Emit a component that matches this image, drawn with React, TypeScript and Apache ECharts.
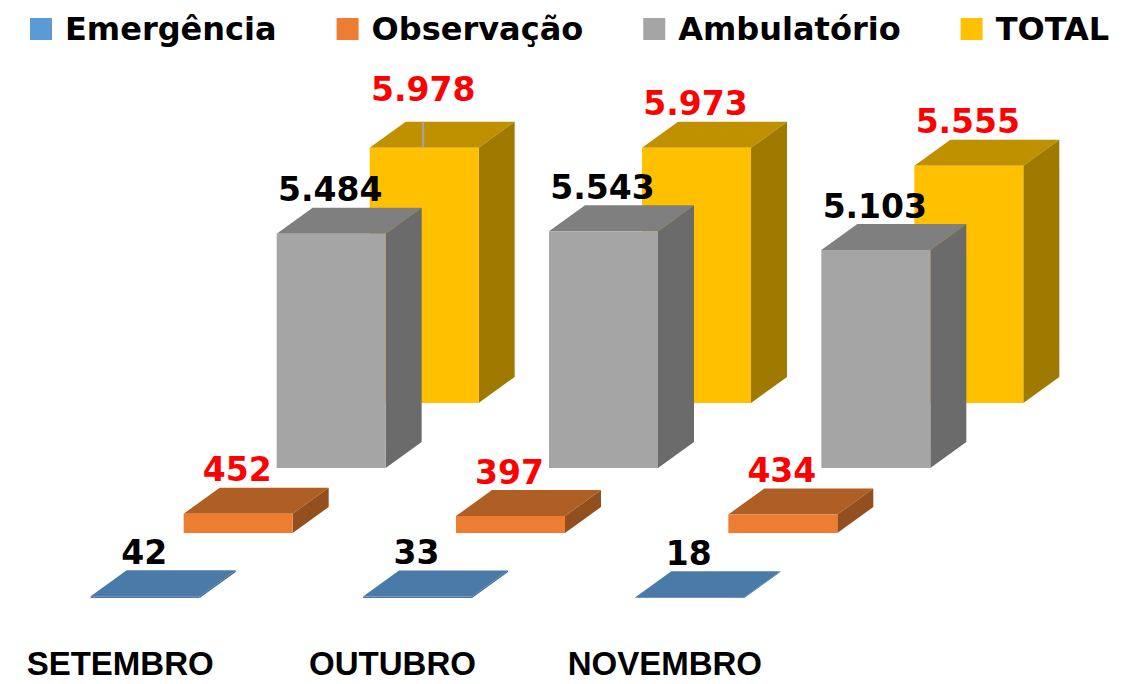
import React, { useEffect, useRef } from "react";
import * as echarts from "echarts";

const categories = ["SETEMBRO", "OUTUBRO", "NOVEMBRO"];
const emergencia = [42, 33, 18];
const observacao = [452, 397, 434];
const ambulatorio = [5484, 5543, 5103];
const total = [5978, 5973, 5555];

const LABEL_FONT = '"DejaVu Sans", sans-serif';
const AXIS_FONT = '"Liberation Sans", sans-serif';
const BAR_W = 109;
const DEPTH_X = 36;
const DEPTH_Y = 26;
const STEP_X = 93;
const STEP_Y = 65;

const fmt = (v: number) => String(v).replace(/\B(?=(\d{3})+$)/g, ".");

function makeSeries(
  name: string,
  values: number[],
  layer: number,
  colors: { legend: string; front: string; top: string; side: string },
  labelColor: string
) {
  return {
    name,
    type: "custom",
    z: 10 - layer,
    data: values.map((v, i) => [i, v]),
    itemStyle: { color: colors.legend },
    encode: { x: 0, y: 1 },
    renderItem: (_: any, api: any) => {
      const i = api.value(0);
      const v = api.value(1);
      const base = api.coord([i, 0]);
      const head = api.coord([i, v]);
      const x0 = base[0] - BAR_W / 2 + layer * STEP_X;
      const x1 = x0 + BAR_W;
      const yb = base[1] - layer * STEP_Y;
      const yt = head[1] - layer * STEP_Y;
      const children: any[] = [
        {
          type: "polygon",
          shape: { points: [[x0, yt], [x1, yt], [x1 + DEPTH_X, yt - DEPTH_Y], [x0 + DEPTH_X, yt - DEPTH_Y]] },
          style: { fill: colors.top },
        },
        {
          type: "polygon",
          shape: { points: [[x1, yb], [x1, yt], [x1 + DEPTH_X, yt - DEPTH_Y], [x1 + DEPTH_X, yb - DEPTH_Y]] },
          style: { fill: colors.side },
        },
        {
          type: "rect",
          shape: { x: x0, y: yt, width: BAR_W, height: yb - yt },
          style: { fill: colors.front },
        },
      ];
      // first TOTAL label was pulled up in the original, with a leader line
      const lifted = name === "TOTAL" && i === 0;
      if (lifted) {
        children.push({
          type: "line",
          shape: { x1: (x0 + x1) / 2 - 1, y1: yt - DEPTH_Y, x2: (x0 + x1) / 2 - 1, y2: yt },
          style: { stroke: "#a5a5a5", lineWidth: 2 },
        });
      }
      children.push({
        type: "text",
        z2: 100,
        style: {
          x: (x0 + x1) / 2 - 1,
          y: yt - (lifted ? 58 : 44),
          text: fmt(v),
          fill: labelColor,
          font: `700 33px ${LABEL_FONT}`,
          align: "center",
          verticalAlign: "middle",
        },
      });
      return { type: "group", children };
    },
  };
}

export default function App() {
  const ref = useRef<HTMLDivElement>(null);
  useEffect(() => {
    document.body.style.margin = "0";
    const chart = echarts.init(ref.current!, undefined, { renderer: "svg" });
    chart.setOption({
      animation: false,
      backgroundColor: "#ffffff",
      legend: {
        top: 8,
        left: 25,
        icon: "rect",
        itemWidth: 22,
        itemHeight: 22,
        itemGap: 60,
        textStyle: { fontFamily: LABEL_FONT, fontWeight: 700, fontSize: 32, color: "#000000", padding: [0, 0, 0, 8] },
        data: ["Emergência", "Observação", "Ambulatório", "TOTAL"],
      },
      grid: { left: 9, width: 817, top: 299, height: 299 },
      xAxis: {
        type: "category",
        data: categories,
        axisLine: { show: false },
        axisTick: { show: false },
        axisLabel: {
          interval: 0,
          margin: 49,
          padding: [0, 50, 0, 0],
          fontFamily: AXIS_FONT,
          fontWeight: 700,
          fontSize: 33,
          lineHeight: 33,
          color: "#000000",
        },
      },
      yAxis: { type: "value", min: 0, max: 7000, show: false, splitLine: { show: false } },
      series: [
        makeSeries("Emergência", emergencia, 0, { legend: "#5b9bd5", front: "#4a7aa8", top: "#4a7aa8", side: "#3f6a94" }, "#000000"),
        makeSeries("Observação", observacao, 1, { legend: "#ed7d31", front: "#ed7d31", top: "#b05f24", side: "#93501e" }, "#ff0000"),
        makeSeries("Ambulatório", ambulatorio, 2, { legend: "#a5a5a5", front: "#a5a5a5", top: "#7f7f7f", side: "#6b6b6b" }, "#000000"),
        makeSeries("TOTAL", total, 3, { legend: "#ffc000", front: "#ffc000", top: "#bf9000", side: "#a07a00" }, "#ff0000"),
      ],
    });
    return () => chart.dispose();
  }, []);
  return <div ref={ref} style={{ position: "fixed", left: 0, top: 0, width: 1123, height: 684 }} />;
}
